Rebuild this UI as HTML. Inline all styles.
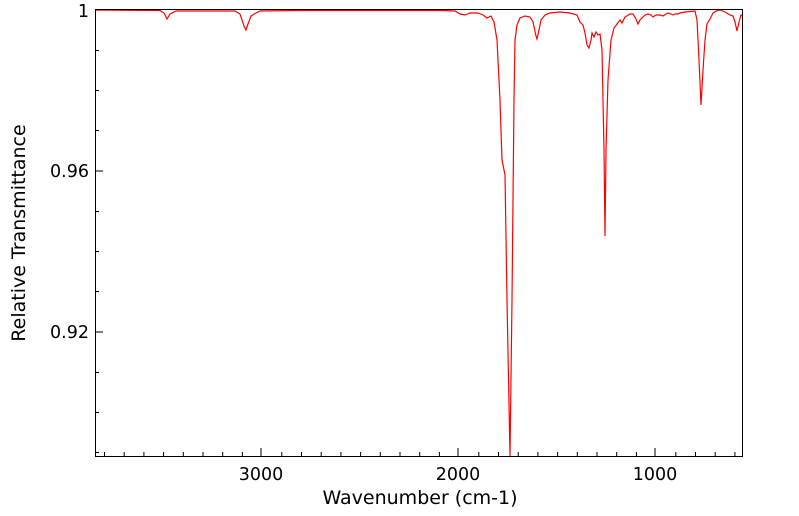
<!DOCTYPE html>
<html><head><style>body{margin:0;background:#fff}svg{display:block}</style></head><body>
<svg width="799" height="516" xmlns="http://www.w3.org/2000/svg" font-family="'DejaVu Sans', sans-serif">
<rect width="799" height="516" fill="#fff"/>
<g stroke="#000" stroke-width="1">
<path d="M104.5 456v-4M124.2 456v-4M143.9 456v-4M163.6 456v-4M183.3 456v-4M203 456v-4M222.7 456v-4M242.4 456v-4M281.8 456v-4M301.5 456v-4M321.2 456v-4M340.9 456v-4M360.6 456v-4M380.3 456v-4M400 456v-4M419.7 456v-4M439.4 456v-4M478.8 456v-4M498.5 456v-4M518.2 456v-4M537.9 456v-4M557.6 456v-4M577.3 456v-4M597 456v-4M616.7 456v-4M636.4 456v-4M675.8 456v-4M695.5 456v-4M715.2 456v-4M734.9 456v-4"/>
<path d="M261 456v-8M458 456v-8M655 456v-8"/>
<path d="M95 50.5h4M95 90.5h4M95 130.5h4M95 211.5h4M95 251.5h4M95 291.5h4M95 372.5h4M95 412.5h4M95 452.5h4"/>
<path d="M95 171h8M95 332h8"/>
</g>
<polyline fill="none" stroke="#ff0000" stroke-width="1.2" points="95,10 160,10.5 164,13 167,19 170,14 176,11 235,11 240,14 244,26 246,30 248,24 251,16 256,13 260,11 300,10.5 440,10.5 455,11 460,14 465,15 470,13 478,13 483,15 487,18 491,16 494,22 497,40 500,100 502,160 505,175 507,300 510,456 512,300 513,200 514,100 515,40 517,25 520,18 525,16 530,17 533,22 536,36 537,39 539,30 541,20 545,15 550,13 560,12 570,13 577,15 580,22 583,25 585,33 587,45 589,48 591,40 592,33 594,37 596,32 598,35 600,34 602,50 604,150 605,236 606,150 608,80 611,40 614,28 617,24 620,20 622,23 625,17 630,14 633,14 636,19 638,24 640,20 643,17 645,15 648,14 651,15 653,17 656,15 660,15 663,16 666,14 668,13 671,14 673,15 675,14 678,14 680,13 685,12 695,11 697,20 699,60 701,105 703,70 705,40 707,24 710,19 713,13 716,11 720,10 725,12 730,15 733,16 735,22 737,31 739,22 741,15 742,16"/>
<rect x="95.5" y="9.5" width="647" height="447" fill="none" stroke="#000" stroke-width="1"/>
<g font-size="17.5" fill="#000">
<text x="89" y="17" text-anchor="end">1</text>
<text x="89" y="177" text-anchor="end">0.96</text>
<text x="89" y="338" text-anchor="end">0.92</text>
<text x="261" y="480" text-anchor="middle">3000</text>
<text x="458" y="480" text-anchor="middle">2000</text>
<text x="655" y="480" text-anchor="middle">1000</text>
</g>
<g font-size="19" fill="#000">
<text x="420" y="504" text-anchor="middle">Wavenumber (cm-1)</text>
<text transform="translate(25,233) rotate(-90)" text-anchor="middle">Relative Transmittance</text>
</g>
</svg>
</body></html>
